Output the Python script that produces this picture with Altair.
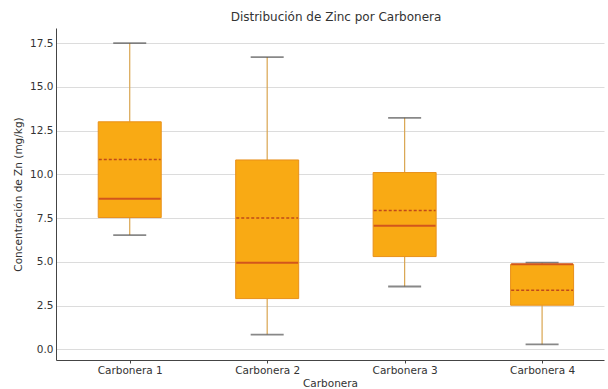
import altair as alt
import pandas as pd

categories = ["Carbonera 1", "Carbonera 2", "Carbonera 3", "Carbonera 4"]
positions = [1, 2, 3, 4]
whisker_lo = [6.53, 0.84, 3.59, 0.28]
q1 = [7.53, 2.90, 5.30, 2.52]
median = [8.60, 4.94, 7.06, 4.86]
mean = [10.85, 7.50, 7.93, 3.38]
q3 = [13.00, 10.82, 10.10, 4.86]
whisker_hi = [17.50, 16.70, 13.23, 4.95]
y_ticks = [0.0, 2.5, 5.0, 7.5, 10.0, 12.5, 15.0, 17.5]
box_half = 0.225

df = pd.DataFrame({
    "cat": categories, "pos": positions, "lo": whisker_lo, "q1": q1,
    "med": median, "mean": mean, "q3": q3, "hi": whisker_hi,
})

FONT = "DejaVu Sans"
label_expr = " : ".join(
    [f"datum.value == {p} ? '{c}'" for p, c in zip(positions, categories)]
) + " : ''"

xscale = alt.Scale(domain=[0.5, 4.414], nice=False, zero=False)
x_axis = alt.Axis(values=positions, labelExpr=label_expr, title="Carbonera",
                  grid=False, tickSize=3, labelPadding=2, titlePadding=3,
                  domainColor="#444", tickColor="#444", labelColor="#333",
                  titleColor="#333", labelFontSize=10.5, titleFontSize=10.5,
                  titleFontWeight="normal", labelFont=FONT, titleFont=FONT)
x = alt.X("pos:Q", scale=xscale, axis=x_axis, title="Carbonera")
yscale = alt.Scale(domain=[-0.61, 18.36], nice=False, zero=False)
YT = "Concentración de Zn (mg/kg)"
y_axis = alt.Axis(values=y_ticks, format=".1f", title=YT,
                  grid=True, gridColor="#dcdcdc", gridWidth=1, ticks=False,
                  labelPadding=3, titlePadding=6, domainColor="#444",
                  labelColor="#333", titleColor="#333", labelFontSize=10.5,
                  titleFontSize=10.5, titleFontWeight="normal",
                  labelFont=FONT, titleFont=FONT)


def Y(f):
    return alt.Y(f + ":Q", scale=yscale, axis=y_axis, title=YT)


base = alt.Chart(df).transform_calculate(
    xl=f"datum.pos - {box_half}", xr=f"datum.pos + {box_half}")

whisk_low = base.mark_rule(color="#d9a550", strokeWidth=1.2).encode(
    x=x, y=Y("lo"), y2="q1:Q")
whisk_high = base.mark_rule(color="#d9a550", strokeWidth=1.2).encode(
    x=x, y=Y("q3"), y2="hi:Q")
cap_lo = base.mark_tick(orient="horizontal", size=33, thickness=1.8, color="#555").encode(
    x=x, y=Y("lo"))
cap_hi = base.mark_tick(orient="horizontal", size=33, thickness=1.8, color="#555").encode(
    x=x, y=Y("hi"))
box = base.mark_bar(size=63, color="#F9AA14", stroke="#E8901A", strokeWidth=1).encode(
    x=x, y=Y("q1"), y2="q3:Q")
med = base.mark_rule(strokeWidth=2, color="#D2561C").encode(
    x=alt.X("xl:Q", scale=xscale, axis=x_axis, title="Carbonera"), x2="xr:Q", y=Y("med"))
mn = base.mark_rule(strokeWidth=1.5, color="#C04A1A", strokeDash=[3, 2]).encode(
    x=alt.X("xl:Q", scale=xscale, axis=x_axis, title="Carbonera"), x2="xr:Q", y=Y("mean"))

chart = alt.layer(whisk_low, whisk_high, box, cap_lo, cap_hi, med, mn).properties(
    width=548, height=332,
    title=alt.TitleParams("Distribución de Zinc por Carbonera", fontSize=12,
                          fontWeight="normal", font=FONT, color="#333",
                          anchor="middle", offset=4, dx=6),
    autosize=alt.AutoSizeParams(type="none"),
    padding={"left": 56, "top": 28, "right": 4, "bottom": 29},
).configure(background="white").configure_view(stroke=None)

chart.save("out.html", embed_options={"renderer": "svg", "actions": False})
